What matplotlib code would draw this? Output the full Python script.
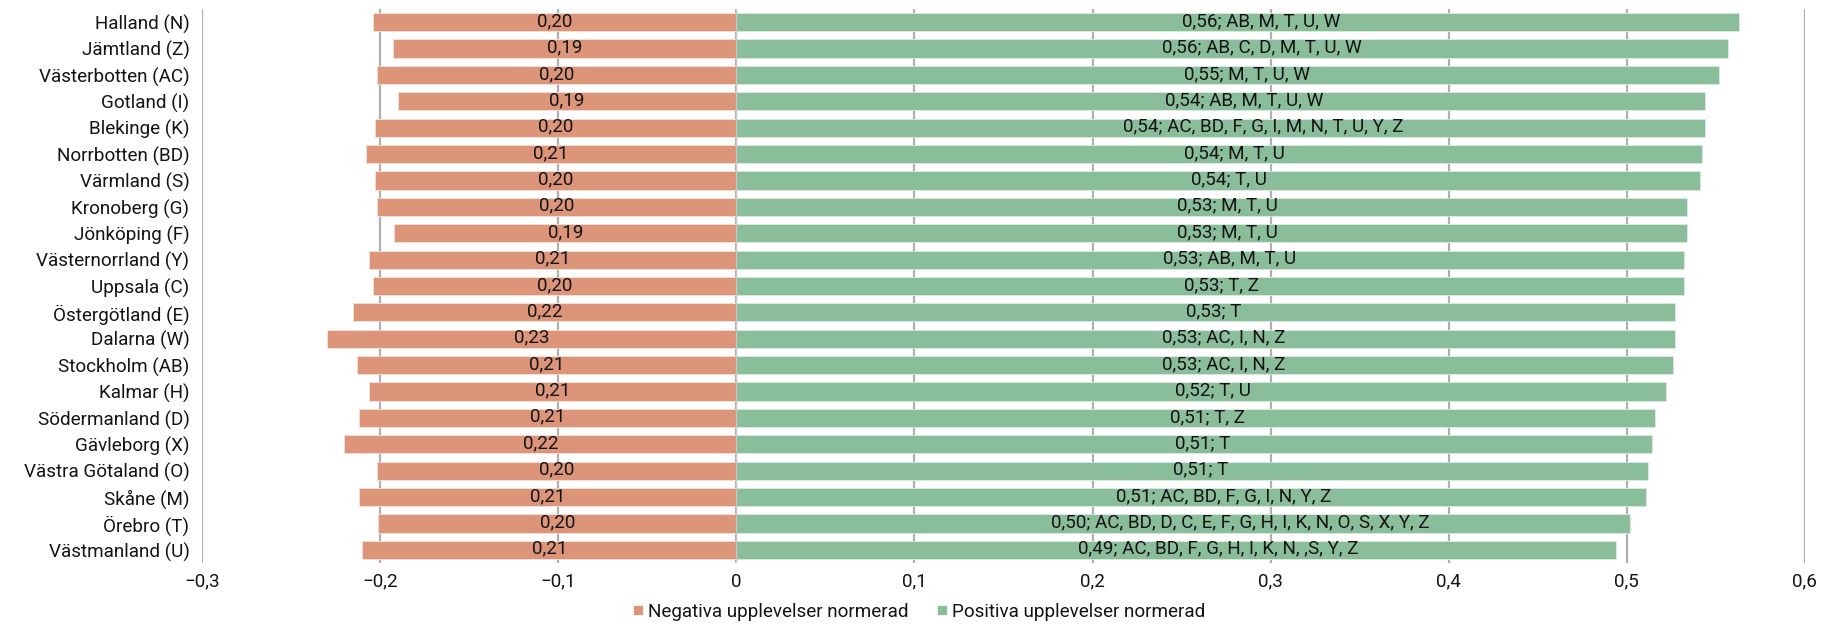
import matplotlib
matplotlib.use("Agg")
import matplotlib.pyplot as plt
from matplotlib.lines import Line2D
from matplotlib.transforms import ScaledTranslation
import numpy as np

plt.rcParams['font.family'] = ['Roboto', 'DejaVu Sans']

# regions, top to bottom
regions = [
    "Halland (N)", "Jämtland (Z)", "Västerbotten (AC)", "Gotland (I)",
    "Blekinge (K)", "Norrbotten (BD)", "Värmland (S)", "Kronoberg (G)",
    "Jönköping (F)", "Västernorrland (Y)", "Uppsala (C)", "Östergötland (E)",
    "Dalarna (W)", "Stockholm (AB)", "Kalmar (H)", "Södermanland (D)",
    "Gävleborg (X)", "Västra Götaland (O)", "Skåne (M)", "Örebro (T)",
    "Västmanland (U)",
]

negative = [0.204, 0.193, 0.202, 0.190, 0.203, 0.208, 0.203, 0.202, 0.192,
            0.206, 0.204, 0.215, 0.230, 0.213, 0.206, 0.212, 0.220, 0.202,
            0.212, 0.201, 0.210]

positive = [0.563, 0.557, 0.552, 0.544, 0.544, 0.542, 0.541, 0.534, 0.534,
            0.532, 0.532, 0.527, 0.527, 0.526, 0.522, 0.516, 0.514, 0.512,
            0.511, 0.502, 0.494]

neg_labels = ["0,20", "0,19", "0,20", "0,19", "0,20", "0,21", "0,20", "0,20",
              "0,19", "0,21", "0,20", "0,22", "0,23", "0,21", "0,21", "0,21",
              "0,22", "0,20", "0,21", "0,20", "0,21"]

pos_labels = [
    "0,56; AB, M, T, U, W",
    "0,56; AB, C, D, M, T, U, W",
    "0,55; M, T, U, W",
    "0,54; AB, M, T, U, W",
    "0,54; AC, BD, F, G, I, M, N, T, U, Y, Z",
    "0,54; M, T, U",
    "0,54; T, U",
    "0,53; M, T, U",
    "0,53; M, T, U",
    "0,53; AB, M, T, U",
    "0,53; T, Z",
    "0,53; T",
    "0,53; AC, I, N, Z",
    "0,53; AC, I, N, Z",
    "0,52; T, U",
    "0,51; T, Z",
    "0,51; T",
    "0,51; T",
    "0,51; AC, BD, F, G, I, N, Y, Z",
    "0,50; AC, BD, D, C, E, F, G, H, I, K, N, O, S, X, Y, Z",
    "0,49; AC, BD, F, G, H, I, K, N, ,S, Y, Z",
]

xticks = [-0.3, -0.2, -0.1, 0, 0.1, 0.2, 0.3, 0.4, 0.5, 0.6]
xtick_labels = ["\u22120,3", "\u22120,2", "\u22120,1", "0", "0,1", "0,2",
                "0,3", "0,4", "0,5", "0,6"]

neg_color = '#DD9579'
pos_color = '#8ABD9A'
text_color = '#141414'
fs = 13.6

fig = plt.figure(figsize=(18.38, 6.27), dpi=100)
ax = fig.add_axes([0.1099, 0.1021, 0.8721, 0.8835])

y = np.arange(len(regions))
neg = -np.array(negative)
pos = np.array(positive)

ax.barh(y, neg, height=0.69, color=neg_color, edgecolor='#f3e2da',
        linewidth=0.6, zorder=2)
ax.barh(y, pos, height=0.69, color=pos_color, edgecolor='#dcebe0',
        linewidth=0.6, zorder=2)

ax.set_xlim(-0.3, 0.6)
ax.set_ylim(len(regions) - 0.5, -0.5)

for xt in xticks:
    ax.axvline(xt, color='#b0b0b0', lw=1.6, zorder=1)
ax.axvline(0, color='#c8c8c8', lw=0.9, zorder=3)

ax.set_xticks(xticks)
ax.set_xticklabels(xtick_labels)
ax.set_yticks(y)
ax.set_yticklabels(regions)
ax.tick_params(axis='both', length=0, labelsize=fs, colors=text_color)
ax.tick_params(axis='y', pad=9)
ax.tick_params(axis='x', pad=7)
for s in ax.spines.values():
    s.set_visible(False)

# value labels
fig.canvas.draw()
renderer = fig.canvas.get_renderer()
for i in range(len(regions)):
    ax.text(neg[i] / 2, i - 0.04, neg_labels[i], ha='center', va='center',
            fontsize=fs, color=text_color, zorder=4)
    t = ax.text(pos[i] / 2, i - 0.04, pos_labels[i], ha='left', va='center',
                fontsize=fs, color=text_color, zorder=4)
    w = t.get_window_extent(renderer).width
    t.set_transform(ax.transData +
                    ScaledTranslation(-0.35 * w / fig.dpi, 0, fig.dpi_scale_trans))

handles = [
    Line2D([], [], marker='s', linestyle='none', markersize=6,
           markerfacecolor=neg_color, markeredgecolor=neg_color),
    Line2D([], [], marker='s', linestyle='none', markersize=6,
           markerfacecolor=pos_color, markeredgecolor=pos_color),
]
fig.legend(handles, ["Negativa upplevelser normerad", "Positiva upplevelser normerad"],
           loc='center', bbox_to_anchor=(0.5, 0.024), ncol=2, frameon=False,
           fontsize=fs, handlelength=0.5, handletextpad=0.3, columnspacing=1.5,
           labelcolor=text_color)

fig.savefig('out.png', dpi=100, facecolor='white')
